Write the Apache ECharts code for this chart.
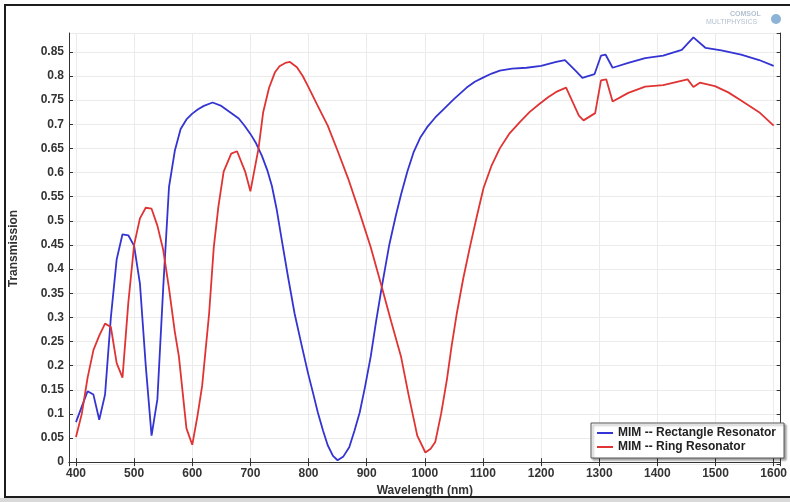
<!DOCTYPE html>
<html>
<head>
<meta charset="utf-8">
<script src="https://cdn.jsdelivr.net/npm/echarts@6/dist/echarts.min.js"></script>
<style>
  html, body { margin: 0; padding: 0; background: #fff; }
  #chart { width: 790px; height: 502px; }
</style>
</head>
<body>
<div id="chart"></div>
<script>
// [wavelength (nm), transmission]
var rectResonator = [
  [400, 0.083], [410, 0.115], [420, 0.147], [430, 0.140], [440, 0.088], [450, 0.140], [460, 0.300], [470, 0.420],
  [480, 0.472], [490, 0.470], [500, 0.448], [510, 0.370], [520, 0.200], [530, 0.055], [540, 0.130], [550, 0.360],
  [560, 0.570], [570, 0.645], [580, 0.690], [590, 0.710], [600, 0.722], [610, 0.731], [620, 0.738], [635, 0.745],
  [650, 0.738], [665, 0.725], [680, 0.712], [690, 0.697], [700, 0.680], [710, 0.660], [720, 0.634], [729, 0.605],
  [737, 0.572], [745, 0.525], [754, 0.460], [765, 0.382], [776, 0.308], [788, 0.243], [799, 0.185], [808, 0.142],
  [816, 0.103], [825, 0.065], [833, 0.035], [842, 0.013], [850, 0.004], [860, 0.012], [870, 0.031], [879, 0.065],
  [888, 0.103], [897, 0.155], [907, 0.219], [916, 0.290], [926, 0.363], [939, 0.451], [950, 0.510], [959, 0.554],
  [970, 0.602], [981, 0.643], [992, 0.672], [1004, 0.694], [1018, 0.714], [1033, 0.732], [1050, 0.752], [1072, 0.776],
  [1086, 0.788], [1101, 0.797], [1115, 0.805], [1129, 0.811], [1150, 0.815], [1175, 0.817], [1200, 0.821], [1226, 0.829],
  [1241, 0.833], [1260, 0.810], [1271, 0.796], [1292, 0.804], [1303, 0.842], [1311, 0.844], [1323, 0.817], [1350, 0.827],
  [1379, 0.837], [1410, 0.842], [1442, 0.854], [1462, 0.880], [1483, 0.858], [1510, 0.853], [1544, 0.844], [1575, 0.833],
  [1600, 0.821]
];

var ringResonator = [
  [400, 0.052], [410, 0.100], [420, 0.175], [430, 0.232], [440, 0.262], [450, 0.287], [460, 0.280], [470, 0.205],
  [480, 0.175], [490, 0.330], [500, 0.450], [510, 0.505], [520, 0.527], [530, 0.525], [540, 0.490], [550, 0.440],
  [560, 0.360], [570, 0.270], [577, 0.219], [590, 0.070], [600, 0.036], [609, 0.096], [617, 0.158], [629, 0.308],
  [637, 0.445], [645, 0.530], [654, 0.602], [667, 0.639], [677, 0.644], [691, 0.602], [700, 0.561], [714, 0.650],
  [722, 0.725], [732, 0.775], [742, 0.807], [750, 0.820], [760, 0.827], [768, 0.829], [780, 0.818], [790, 0.800],
  [799, 0.779], [815, 0.740], [833, 0.697], [850, 0.645], [868, 0.588], [887, 0.520], [907, 0.445], [926, 0.363],
  [942, 0.292], [959, 0.219], [972, 0.140], [987, 0.055], [1001, 0.020], [1010, 0.028], [1018, 0.042], [1028, 0.100],
  [1038, 0.171], [1046, 0.240], [1055, 0.308], [1066, 0.380], [1078, 0.448], [1090, 0.512], [1101, 0.568], [1115, 0.615],
  [1129, 0.650], [1145, 0.680], [1163, 0.704], [1180, 0.725], [1197, 0.742], [1212, 0.756], [1226, 0.767], [1243, 0.776],
  [1265, 0.718], [1273, 0.708], [1293, 0.723], [1303, 0.791], [1312, 0.793], [1323, 0.747], [1350, 0.765], [1379, 0.778],
  [1410, 0.781], [1452, 0.793], [1462, 0.777], [1473, 0.786], [1499, 0.779], [1522, 0.766], [1544, 0.749], [1575, 0.725],
  [1600, 0.697]
];

var seriesNames = ["MIM -- Rectangle Resonator", "MIM -- Ring Resonator"];
var axisNames = ["Wavelength (nm)", "Transmission"];

var font = "Liberation Sans";
var textColor = "#333";

var chart = echarts.init(document.getElementById("chart"));
chart.setOption({
  animation: false,
  backgroundColor: "#fff",
  textStyle: { fontFamily: font },
  grid: { left: 69, right: 3, top: 33, bottom: 33 },
  legend: {
    orient: "vertical",
    left: 591,
    top: 423,
    padding: [4, 8, 5, 6],
    itemGap: 2,
    itemWidth: 16,
    itemHeight: 2,
    icon: "rect",
    backgroundColor: "#fff",
    borderColor: "#555",
    borderWidth: 1,
    shadowColor: "rgba(0,0,0,0.35)",
    shadowBlur: 2,
    shadowOffsetX: 2,
    shadowOffsetY: 2,
    textStyle: { fontFamily: font, fontSize: 12, fontWeight: "bold", color: "#222" },
    data: seriesNames,
  },
  xAxis: [
    {
      type: "value",
      min: 388,
      max: 1612,
      minInterval: 100,
      maxInterval: 100,
      name: axisNames[0],
      nameLocation: "middle",
      nameGap: 14,
      nameTextStyle: { fontFamily: font, fontSize: 12, fontWeight: "bold", color: textColor },
      axisLine: { lineStyle: { color: "#333" } },
      axisTick: { inside: true, length: 4, lineStyle: { color: "#333" } },
      axisLabel: {
        margin: 4,
        fontFamily: font, fontSize: 12, fontWeight: "bold", color: textColor,
        showMinLabel: false, showMaxLabel: false,
        formatter: function(v) { return String(v); },
      },
      splitLine: { show: true, lineStyle: { color: "#ebebeb" } },
    },
    {
      type: "value",
      position: "top",
      min: 388,
      max: 1612,
      minInterval: 100,
      maxInterval: 100,
      axisLine: { lineStyle: { color: "#333" } },
      axisTick: { inside: true, length: 4, lineStyle: { color: "#333" } },
      axisLabel: { show: false },
      splitLine: { show: false },
    },
  ],
  yAxis: [
    {
      type: "value",
      min: -0.004,
      max: 0.889,
      minInterval: 0.05,
      maxInterval: 0.05,
      name: axisNames[1],
      nameLocation: "middle",
      nameGap: 49,
      nameTextStyle: { fontFamily: font, fontSize: 12, fontWeight: "bold", color: textColor },
      axisLine: { show: true, lineStyle: { color: "#333" } },
      axisTick: { show: true, inside: true, length: 4, lineStyle: { color: "#333" } },
      axisLabel: {
        margin: 5,
        fontFamily: font, fontSize: 12, fontWeight: "bold", color: textColor,
        showMinLabel: false, showMaxLabel: false,
      },
      splitLine: { show: true, lineStyle: { color: "#ebebeb" } },
    },
    {
      type: "value",
      position: "right",
      min: -0.004,
      max: 0.889,
      minInterval: 0.05,
      maxInterval: 0.05,
      axisLine: { show: true, lineStyle: { color: "#333" } },
      axisTick: { show: true, inside: true, length: 4, lineStyle: { color: "#333" } },
      axisLabel: { show: false },
      splitLine: { show: false },
    },
  ],
  graphic: [
    // screenshot frame
    { type: "rect", z: 100, shape: { x: 5, y: 5, width: 800, height: 492 }, style: { fill: null, stroke: "#1c1c1c", lineWidth: 2 } },
    { type: "rect", z: 100, shape: { x: 0, y: 498, width: 790, height: 4 }, style: { fill: "#d9d9d9" } },
    // logo
    { type: "text", z: 100, left: 730, top: 11, style: { text: "COMSOL", fill: "#b4c1d0", font: "bold 7px " + font } },
    { type: "text", z: 100, left: 706, top: 19, style: { text: "MULTIPHYSICS", fill: "#b4c1d0", font: "7px " + font } },
    { type: "circle", z: 100, shape: { cx: 776, cy: 19, r: 5 }, style: { fill: "#8db3d6" } },
  ],
  series: [
    {
      name: seriesNames[0],
      type: "line",
      symbol: "none",
      itemStyle: { color: "#3434d2" },
      lineStyle: { color: "#3434d2", width: 1.8 },
      data: rectResonator,
    },
    {
      name: seriesNames[1],
      type: "line",
      symbol: "none",
      itemStyle: { color: "#e03434" },
      lineStyle: { color: "#e03434", width: 1.8 },
      data: ringResonator,
    },
  ],
});
</script>
</body>
</html>
